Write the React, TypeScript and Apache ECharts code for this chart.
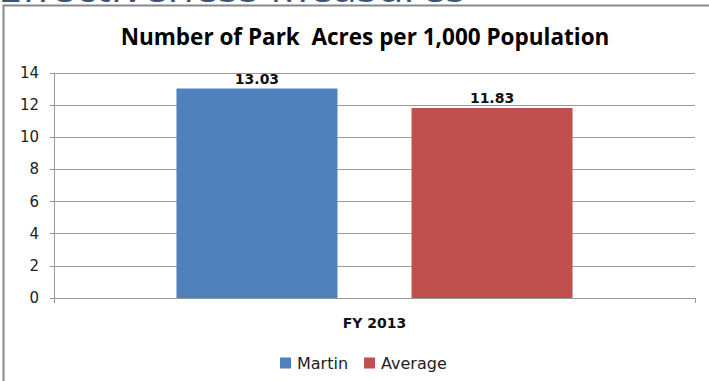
import React, { useEffect, useRef } from "react";
import * as echarts from "echarts";

const categories = ["FY 2013"];
const martinValues = [13.03];
const averageValues = [11.83];
const seriesNames = ["Martin", "Average"];
const chartTitle = "Number of Park  Acres per 1,000 Population";
const pageHeading = "Effectiveness Measures";

export default function App() {
  const ref = useRef<HTMLDivElement>(null);
  useEffect(() => {
    if (!ref.current) return;
    const chart = echarts.init(ref.current, undefined, { renderer: "svg" });
    const labelStyle = {
      show: true,
      position: "top" as const,
      distance: 3,
      fontFamily: "DejaVu Sans",
      fontWeight: "bold" as const,
      fontSize: 14,
      color: "#111",
      formatter: (p: any) => p.value.toFixed(2),
    };
    chart.setOption({
      animation: false,
      backgroundColor: "#ffffff",
      title: {
        text: chartTitle,
        left: 360,
        textAlign: "center",
        top: 20,
        textStyle: {
          fontFamily: "Open Sans",
          fontWeight: "bold",
          fontSize: 22.5,
          color: "#000",
        },
      },
      legend: {
        data: seriesNames,
        left: 275,
        top: 350,
        itemWidth: 11,
        itemHeight: 11,
        itemGap: 16,
        icon: "rect",
        textStyle: { fontFamily: "DejaVu Sans", fontSize: 16, color: "#222", padding: [0, 0, 0, 1] },
      },
      grid: { left: 54, right: 14, top: 73, bottom: 83, containLabel: false },
      xAxis: {
        type: "category",
        data: categories,
        axisLine: { show: true, lineStyle: { color: "#9a9a9a", width: 1 } },
        axisTick: { show: true, length: 5, lineStyle: { color: "#9a9a9a" } },
        axisLabel: {
          margin: 18,
          fontFamily: "DejaVu Sans",
          fontWeight: "bold",
          fontSize: 14,
          color: "#111",
        },
      },
      yAxis: {
        type: "value",
        min: 0,
        max: 14,
        interval: 2,
        axisLine: { show: true, lineStyle: { color: "#9a9a9a", width: 1 } },
        axisTick: { show: true, length: 4, lineStyle: { color: "#9a9a9a" } },
        splitLine: { show: true, lineStyle: { color: "#9a9a9a", width: 1 } },
        axisLabel: {
          margin: 15,
          fontFamily: "DejaVu Sans",
          fontSize: 15,
          color: "#222",
        },
      },
      series: [
        {
          name: seriesNames[0],
          type: "bar",
          data: martinValues,
          barWidth: 161,
          barGap: "46%",
          itemStyle: { color: "#4F81BD" },
          label: labelStyle,
        },
        {
          name: seriesNames[1],
          type: "bar",
          data: averageValues,
          barWidth: 161,
          barGap: "46%",
          itemStyle: { color: "#C0504D" },
          label: labelStyle,
        },
      ],
      graphic: [
        {
          type: "text",
          left: -2,
          top: -36,
          silent: true,
          style: {
            text: pageHeading,
            fontFamily: "Open Sans",
            fontSize: 43,
            fill: "#3D5275",
          },
        },
        {
          type: "polyline",
          silent: true,
          shape: { points: [[3.5, 381], [3.5, 5.5], [709, 5.5]] },
          style: { stroke: "#888", lineWidth: 2, fill: "none" },
        },
      ],
    });
    return () => chart.dispose();
  }, []);
  return (
    <div
      ref={ref}
      style={{ position: "fixed", left: 0, top: 0, width: 709, height: 381 }}
    />
  );
}
